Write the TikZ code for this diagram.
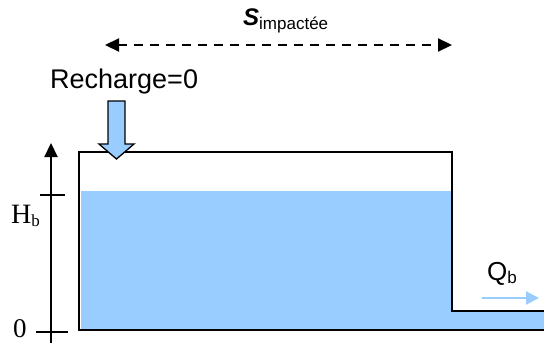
\documentclass[tikz,border=0pt]{standalone}
\usepackage{fontspec}
\setmainfont{Liberation Sans}
\newfontfamily\serifTNR{Liberation Serif}
\usetikzlibrary{arrows.meta}
\definecolor{water}{HTML}{99CCFF}
\tikzset{
  txt/.style={inner sep=0pt, anchor=base west},
  wall/.style={draw=black, line width=2.2pt, line join=miter},
  tri/.style={-{Triangle[length=12pt,width=12pt]}}
}
\begin{document}
\begin{tikzpicture}[x=1pt,y=-1pt]
\useasboundingbox (0,0) rectangle (544,343);
% water
\fill[water] (81,191) rectangle (451,329);
\fill[water] (449,311) rectangle (544,330);
% tank
\coordinate (tl) at (79,152);
\coordinate (tr) at (452,152);
\coordinate (cr) at (452,311);
\coordinate (ce) at (545,311);
\coordinate (bl) at (79,330);
\coordinate (be) at (545,330);
\draw[wall] (bl) -- (tl) -- (tr) -- (cr) -- (ce);
\draw[wall] (78,330) -- (be);
% axis
\coordinate (axb) at (51,346);
\coordinate (axt) at (51,143);
\draw[line width=2.2pt, -{Triangle[length=14pt,width=13pt]}] (axb) -- (axt);
\draw[line width=1.6pt] (40,195) -- (65,195);
\draw[line width=1.6pt] (36,332) -- (68,332);
\node[txt] (hb) at (11,223) {\serifTNR\fontsize{28}{28}\selectfont H\raisebox{-3pt}{\fontsize{17}{17}\selectfont b}};
\node[txt] (zero) at (13,337) {\serifTNR\fontsize{27}{27}\selectfont 0};
% recharge arrow
\draw[fill=water, line width=1.3pt, line join=miter]
  (108,101) -- (125,101) -- (125,144) -- (134,144) -- (116.5,159) -- (99,144) -- (108,144) -- cycle;
\node[txt] (rech) at (50,88) {\fontsize{27}{27}\selectfont Recharge=0};
% surface arrow
\coordinate (sl) at (105,45);
\coordinate (sr) at (452,45);
\draw[line width=2.2pt, dash pattern=on 9pt off 7pt, {Triangle[length=14pt,width=13pt]}-{Triangle[length=14pt,width=13pt]}] (sl) -- (sr);
\node[txt] (simp) at (243,25) {{\fontsize{24}{24}\selectfont\bfseries\itshape S}\raisebox{-4pt}{\fontsize{17}{17}\selectfont impactée}};
% outflow
\node[txt] (qb) at (487,280) {\fontsize{26}{26}\selectfont Q\raisebox{-3pt}{\fontsize{17}{17}\selectfont b}};
\coordinate (ql) at (482,298);
\coordinate (qr) at (539,298);
\draw[water, line width=2.2pt, -{Triangle[length=13pt,width=13pt]}] (ql) -- (qr);
\end{tikzpicture}
\end{document}
